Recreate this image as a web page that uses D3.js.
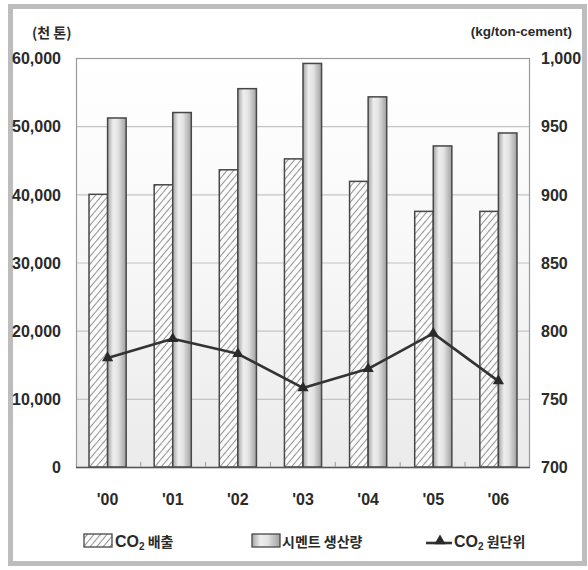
<!DOCTYPE html>
<html>
<head>
<meta charset="utf-8">
<script src="https://cdn.jsdelivr.net/npm/d3@7"></script>
<style>
  html, body { margin: 0; padding: 0; background: #fff; }
  svg { display: block; }
  .num { font-family: "Liberation Sans Narrow", "Arial Narrow", "Liberation Sans", sans-serif; font-weight: bold; fill: #2a2a2a; }
  .kr { font-family: "Noto Sans CJK KR", sans-serif; font-weight: bold; fill: #2a2a2a; }
</style>
</head>
<body>
<script>
// Years on the x axis
const years = ["'00", "'01", "'02", "'03", "'04", "'05", "'06"];
// CO2 emissions (thousand tons)
const co2Emission = [40000, 41400, 43600, 45200, 41900, 37500, 37500];
// Cement production (thousand tons)
const cementOutput = [51200, 52000, 55500, 59200, 54300, 47100, 49000];
// CO2 intensity (kg/ton-cement)
const co2Intensity = [780, 794, 783, 758, 772, 798, 763];
// Axis ticks
const leftTicks = [0, 10000, 20000, 30000, 40000, 50000, 60000];
const rightTicks = [700, 750, 800, 850, 900, 950, 1000];
// Legend labels: [prefix, subscript, suffix]
const legendLabels = [["CO", "2", " 배출"], ["", "", "시멘트 생산량"], ["CO", "2", " 원단위"]];

const W = 588, H = 570;
const plot = { left: 76, right: 530, top: 58, bottom: 467 };

const svg = d3.select("body").append("svg").attr("width", W).attr("height", H);
const defs = svg.append("defs");

// Diagonal hatch for emissions bars
const hatch = defs.append("pattern")
  .attr("id", "hatch").attr("patternUnits", "userSpaceOnUse")
  .attr("width", 5).attr("height", 5).attr("patternTransform", "rotate(40)");
hatch.append("rect").attr("width", 5).attr("height", 5).attr("fill", "#fbfbfb");
hatch.append("line").attr("x1", 0).attr("y1", 0).attr("x2", 0).attr("y2", 5)
  .attr("stroke", "#808080").attr("stroke-width", 1.7);

// Cylindrical shading for production bars
const cyl = defs.append("linearGradient").attr("id", "cyl").attr("x1", "0%").attr("x2", "100%");
[["0%", "#a4a4a4"], ["30%", "#eeeeee"], ["55%", "#e4e4e4"], ["100%", "#a0a0a0"]]
  .forEach(([o, c]) => cyl.append("stop").attr("offset", o).attr("stop-color", c));

// Plot background fade
const bg = defs.append("linearGradient").attr("id", "bg").attr("x1", "0").attr("x2", "0").attr("y1", "0").attr("y2", "1");
[["0%", "#ffffff"], ["45%", "#f8f8f8"], ["100%", "#ebebeb"]]
  .forEach(([o, c]) => bg.append("stop").attr("offset", o).attr("stop-color", c));

// Outer frame
svg.append("rect").attr("x", 10.5).attr("y", 6.5).attr("width", 574).attr("height", 557)
  .attr("fill", "none").attr("stroke", "#bdbdbd").attr("stroke-width", 5);

// Scales
const x0 = d3.scaleBand().domain(years).range([plot.left, plot.right]).paddingInner(0.43).paddingOuter(0.2);
const x1 = d3.scaleBand().domain(["e", "c"]).range([0, x0.bandwidth()]).padding(0);
const xc = d3.scalePoint().domain(years).range([plot.left, plot.right]).padding(0.5);
const yL = d3.scaleLinear().domain([0, 60000]).range([plot.bottom, plot.top]);
const yR = d3.scaleLinear().domain([700, 1000]).range([plot.bottom, plot.top]);

// Plot background
svg.append("rect").attr("x", plot.left).attr("y", plot.top)
  .attr("width", plot.right - plot.left).attr("height", plot.bottom - plot.top)
  .attr("fill", "url(#bg)");

// Gridlines
svg.append("g").selectAll("line").data(leftTicks.slice(1)).join("line")
  .attr("x1", plot.left).attr("x2", plot.right)
  .attr("y1", d => yL(d) + 0.5).attr("y2", d => yL(d) + 0.5)
  .attr("stroke", "#c4c4c4").attr("stroke-width", 1.2);

// Plot border
svg.append("rect").attr("x", plot.left + 0.5).attr("y", plot.top + 0.5)
  .attr("width", plot.right - plot.left - 1).attr("height", plot.bottom - plot.top)
  .attr("fill", "none").attr("stroke", "#9a9a9a").attr("stroke-width", 1.2);

// Bars
const groups = svg.append("g").selectAll("g").data(years).join("g")
  .attr("transform", d => `translate(${x0(d)},0)`);
groups.append("rect")
  .attr("x", x1("e")).attr("width", x1.bandwidth())
  .attr("y", (d, i) => yL(co2Emission[i])).attr("height", (d, i) => yL(0) - yL(co2Emission[i]))
  .attr("fill", "url(#hatch)").attr("stroke", "#474747").attr("stroke-width", 1.5);
groups.append("rect")
  .attr("x", x1("c")).attr("width", x1.bandwidth())
  .attr("y", (d, i) => yL(cementOutput[i])).attr("height", (d, i) => yL(0) - yL(cementOutput[i]))
  .attr("fill", "url(#cyl)").attr("stroke", "#474747").attr("stroke-width", 1.5);

// Baseline and category separators
svg.append("line").attr("x1", plot.left).attr("x2", plot.right)
  .attr("y1", plot.bottom + 0.5).attr("y2", plot.bottom + 0.5)
  .attr("stroke", "#555").attr("stroke-width", 1.5);
const step = x0.step();
svg.append("g").selectAll("line").data(years.slice(1)).join("line")
  .attr("x1", d => xc(d) - step / 2).attr("x2", d => xc(d) - step / 2)
  .attr("y1", plot.bottom).attr("y2", plot.bottom - 5)
  .attr("stroke", "#999").attr("stroke-width", 1);

// Intensity line
const line = d3.line().x((d, i) => x0(years[i]) + x0.bandwidth() / 2).y(d => yR(d));
svg.append("path").datum(co2Intensity).attr("d", line)
  .attr("fill", "none").attr("stroke", "#333").attr("stroke-width", 2.6).attr("stroke-linejoin", "round");
const tri = d3.symbol().type(d3.symbolTriangle).size(55);
svg.append("g").selectAll("path").data(co2Intensity).join("path")
  .attr("d", tri)
  .attr("transform", (d, i) => `translate(${x0(years[i]) + x0.bandwidth() / 2},${yR(d)})`)
  .attr("fill", "#2a2a2a");

// Left axis
const axL = svg.append("g").attr("transform", `translate(${61},0)`)
  .call(d3.axisLeft(yL).tickValues(leftTicks).tickFormat(d3.format(",")).tickSize(0).tickPadding(0));
axL.select(".domain").remove();
axL.selectAll("text").attr("class", "num").attr("font-size", 16).attr("dy", "0.36em").attr("text-anchor", "end");

// Right axis
const axR = svg.append("g").attr("transform", `translate(${541},0)`)
  .call(d3.axisRight(yR).tickValues(rightTicks).tickFormat(d3.format(",")).tickSize(0).tickPadding(0));
axR.select(".domain").remove();
axR.selectAll("text").attr("class", "num").attr("font-size", 16).attr("dy", "0.36em");

// Bottom axis labels
const axB = svg.append("g").attr("transform", `translate(0,${plot.bottom})`)
  .call(d3.axisBottom(x0).tickSize(0).tickPadding(0));
axB.select(".domain").remove();
axB.selectAll("text").attr("class", "num").attr("font-size", 16).attr("y", 38).attr("dy", 0);

// Axis unit titles
svg.append("text").attr("class", "kr").attr("x", 32).attr("y", 38).attr("font-size", 14).attr("font-weight", "normal").text("(천 톤)");
svg.append("text").attr("class", "num").attr("x", 572).attr("y", 36).attr("text-anchor", "end").attr("font-size", 13.5).text("(kg/ton-cement)");

// Legend
const lg = svg.append("g");
lg.append("rect").attr("x", 84).attr("y", 534).attr("width", 28).attr("height", 13)
  .attr("fill", "url(#hatch)").attr("stroke", "#474747").attr("stroke-width", 1.3);
lg.append("rect").attr("x", 252).attr("y", 534).attr("width", 28).attr("height", 13)
  .attr("fill", "url(#cyl)").attr("stroke", "#474747").attr("stroke-width", 1.3);
lg.append("line").attr("x1", 426).attr("x2", 452).attr("y1", 543).attr("y2", 543)
  .attr("stroke", "#333").attr("stroke-width", 2.6);
lg.append("path").attr("d", tri).attr("transform", "translate(440,541)").attr("fill", "#2a2a2a");
const lx = [115, 282, 454];
legendLabels.forEach((parts, i) => {
  const t = lg.append("text").attr("x", lx[i]).attr("y", 547);
  if (parts[0]) {
    t.append("tspan").attr("class", "num").attr("font-size", 16).text(parts[0]);
    t.append("tspan").attr("class", "num").attr("font-size", 10).attr("dy", 3).text(parts[1]);
    t.append("tspan").attr("class", "kr").attr("font-size", 14).attr("dy", -3).text(parts[2]);
  } else {
    t.append("tspan").attr("class", "kr").attr("font-size", 14).text(parts[2]);
  }
});
</script>
</body>
</html>
